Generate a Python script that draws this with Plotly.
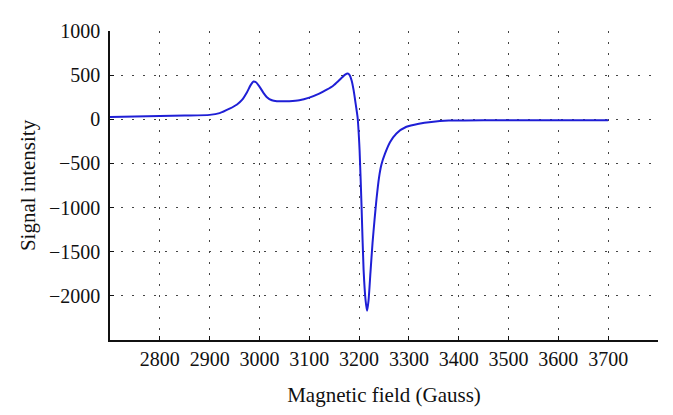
import plotly.graph_objects as go

field = [2700, 2750, 2800, 2850, 2900, 2920, 2940, 2955, 2965, 2975, 2982, 2988, 2993,
         3000, 3008, 3015, 3025, 3035, 3045, 3060, 3080, 3100, 3120, 3135, 3148, 3158,
         3166, 3172, 3177, 3181, 3185, 3189, 3193, 3197, 3201, 3205, 3209, 3213, 3216,
         3219, 3223, 3227, 3231, 3235, 3240, 3245, 3252, 3262, 3275, 3295, 3320, 3345,
         3380, 3450, 3550, 3700]
signal = [25, 32, 38, 43, 50, 70, 120, 168, 219, 307, 384, 428, 420,
          370, 300, 250, 215, 205, 203, 205, 215, 245, 290, 335, 380, 430,
          475, 505, 518, 500, 440, 330, 180, 20, -350, -1000, -1700, -2050, -2170,
          -2050, -1720, -1400, -1140, -900, -660, -510, -390, -260, -160, -85, -50, -30,
          -15, -10, -10, -10]

x_ticks = [2800, 2900, 3000, 3100, 3200, 3300, 3400, 3500, 3600, 3700]
y_ticks = [-2000, -1500, -1000, -500, 0, 500, 1000]

fig = go.Figure()
fig.add_trace(go.Scatter(x=field, y=signal, mode="lines",
                         line=dict(color="#1f1fd6", width=2, shape="spline", smoothing=0.6)))

fam = "Liberation Serif, DejaVu Serif, serif"
tick_font = dict(family=fam, size=20, color="#111")
title_font = dict(family=fam, size=21, color="#111")
axis_common = dict(showline=True, linecolor="#111", linewidth=1.5, ticks="inside",
                   ticklen=4, tickcolor="#111", showgrid=True, gridcolor="#444",
                   griddash="2px,9px", gridwidth=1, zeroline=False, tickfont=tick_font)
fig.update_xaxes(range=[2700, 3800], tickvals=x_ticks,
                 title=dict(text="Magnetic field (Gauss)", font=title_font, standoff=19),
                 **axis_common)
fig.update_yaxes(range=[-2500, 1000], tickvals=y_ticks, ticklabelstandoff=4,
                 title=dict(text="Signal intensity", font=title_font, standoff=8),
                 **axis_common)
fig.update_layout(width=665, height=407, margin=dict(l=102, r=15, t=14, b=73),
                  plot_bgcolor="white", paper_bgcolor="white", showlegend=False,
                  font=tick_font)
fig.write_html("out.html")
